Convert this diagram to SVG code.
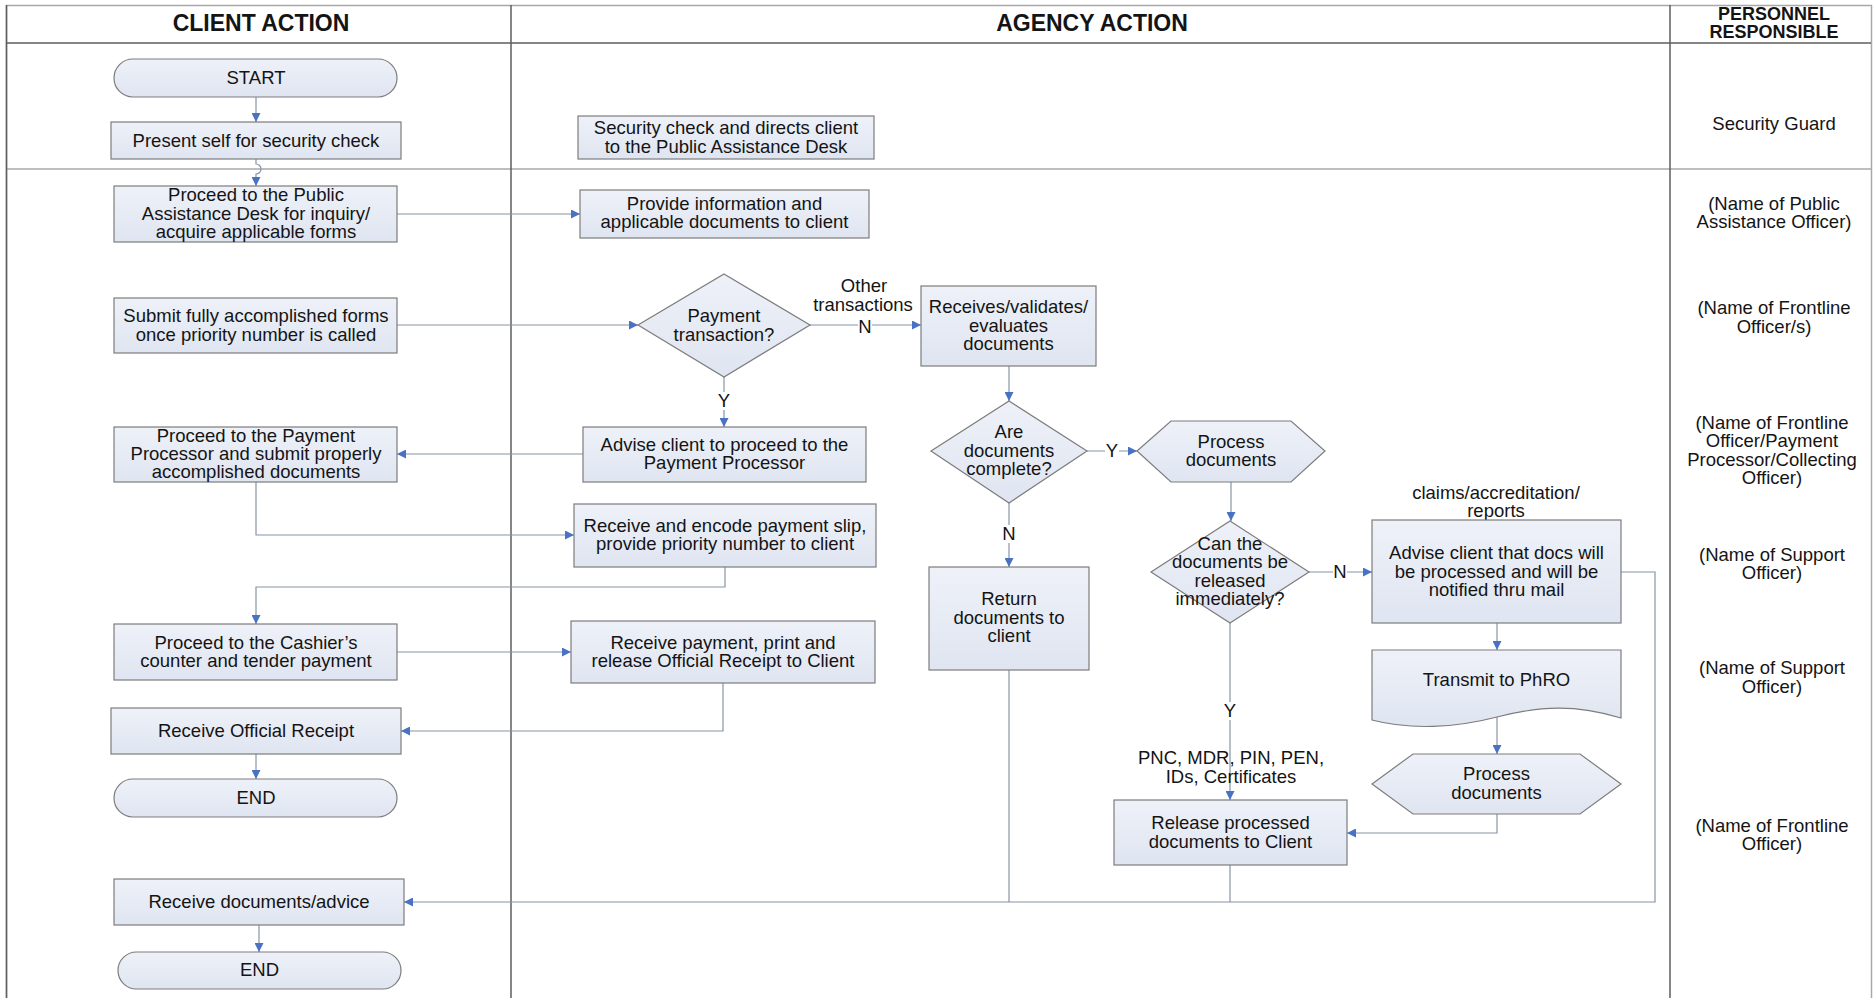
<svg xmlns="http://www.w3.org/2000/svg" width="1874" height="998" viewBox="0 0 1874 998">
<style>
text{font-family:"Liberation Sans",Arial,sans-serif;fill:#141414;text-anchor:middle}
.t{font-size:18.5px}
.h{font-size:23px;font-weight:bold}
.hs{font-size:18px;font-weight:bold}
.n{fill:url(#g);stroke:#7c7c7c;stroke-width:1.2}
.c{fill:none;stroke:#8794a8;stroke-width:1.2}
.fr{stroke:#5e5e5e;stroke-width:1.5;fill:none}
.fl{stroke:#a8a8a8;stroke-width:1.5;fill:none}
.lb{fill:#fff}
</style>
<defs>
<linearGradient id="g" x1="0" y1="0" x2="0" y2="1">
<stop offset="0" stop-color="#eef1f8"/>
<stop offset="1" stop-color="#dfe5f1"/>
</linearGradient>
<marker id="arr" viewBox="0 0 10 10" refX="10" refY="5" markerWidth="10" markerHeight="9" markerUnits="userSpaceOnUse" orient="auto">
<path d="M0,0 L10,5 L0,10 z" fill="#4a72c4"/>
</marker>
</defs>
<rect width="1874" height="998" fill="#fff"/>
<g id="frame">
<rect x="6.5" y="5.5" width="1865" height="1000" class="fl"/>
<line x1="6" y1="43" x2="1871" y2="43" class="fr"/>
<line x1="6" y1="169" x2="1871" y2="169" class="fl"/>
<line x1="511" y1="5" x2="511" y2="998" class="fr"/>
<line x1="1670" y1="5" x2="1670" y2="998" class="fr"/>
<line x1="6.5" y1="5" x2="6.5" y2="998" class="fr"/>
<text x="261" y="31" class="h">CLIENT ACTION</text>
<text x="1092" y="31" class="h">AGENCY ACTION</text>
<text x="1774" y="20" class="hs">PERSONNEL</text>
<text x="1774" y="38" class="hs">RESPONSIBLE</text>
</g>
<g id="personnel">
<text x="1774" y="130" class="t">Security Guard</text>
<text x="1774" y="210" class="t">(Name of Public</text>
<text x="1774" y="228" class="t">Assistance Officer)</text>
<text x="1774" y="314" class="t">(Name of Frontline</text>
<text x="1774" y="333" class="t">Officer/s)</text>
<text x="1772" y="429" class="t">(Name of Frontline</text>
<text x="1772" y="447" class="t">Officer/Payment</text>
<text x="1772" y="466" class="t">Processor/Collecting</text>
<text x="1772" y="484" class="t">Officer)</text>
<text x="1772" y="561" class="t">(Name of Support</text>
<text x="1772" y="579" class="t">Officer)</text>
<text x="1772" y="674" class="t">(Name of Support</text>
<text x="1772" y="693" class="t">Officer)</text>
<text x="1772" y="832" class="t">(Name of Frontline</text>
<text x="1772" y="850" class="t">Officer)</text>
</g>
<g id="connectors">
<path d="M256,97 V122" class="c" marker-end="url(#arr)"/>
<path d="M256,159 V164 A5,5 0 0 1 256,174 V186" class="c" marker-end="url(#arr)"/>
<path d="M397,214 H580" class="c" marker-end="url(#arr)"/>
<path d="M397,325 H638" class="c" marker-end="url(#arr)"/>
<path d="M809,325 H921" class="c" marker-end="url(#arr)"/>
<path d="M724,377 V427" class="c" marker-end="url(#arr)"/>
<path d="M583,454 H397" class="c" marker-end="url(#arr)"/>
<path d="M256,482 V535 H574" class="c" marker-end="url(#arr)"/>
<path d="M725,567 V587 H256 V624" class="c" marker-end="url(#arr)"/>
<path d="M397,652 H571" class="c" marker-end="url(#arr)"/>
<path d="M723,683 V731 H401" class="c" marker-end="url(#arr)"/>
<path d="M256,754 V779" class="c" marker-end="url(#arr)"/>
<path d="M1009,366 V401" class="c" marker-end="url(#arr)"/>
<path d="M1009,503 V567" class="c" marker-end="url(#arr)"/>
<path d="M1087,451 H1137" class="c" marker-end="url(#arr)"/>
<path d="M1231,482 V521" class="c" marker-end="url(#arr)"/>
<path d="M1309,572 H1372" class="c" marker-end="url(#arr)"/>
<path d="M1497,623 V650" class="c" marker-end="url(#arr)"/>
<path d="M1497,712 V754" class="c" marker-end="url(#arr)"/>
<path d="M1497,814 V833 H1347" class="c" marker-end="url(#arr)"/>
<path d="M1230,623 V800" class="c" marker-end="url(#arr)"/>
<path d="M1009,670 V902" class="c"/>
<path d="M1230,865 V902" class="c"/>
<path d="M1621,572 H1655 V902 H404" class="c" marker-end="url(#arr)"/>
<path d="M259,925 V952" class="c" marker-end="url(#arr)"/>
<rect x="717" y="392" width="14" height="18" class="lb"/>
<text x="724" y="407" class="t">Y</text>
<text x="864" y="292" class="t">Other</text>
<text x="863" y="311" class="t">transactions</text>
<rect x="858" y="319" width="14" height="16" class="lb"/>
<text x="865" y="333" class="t">N</text>
<rect x="1002" y="525" width="14" height="18" class="lb"/>
<text x="1009" y="540" class="t">N</text>
<rect x="1105" y="443" width="14" height="17" class="lb"/>
<text x="1112" y="457" class="t">Y</text>
<rect x="1333" y="564" width="14" height="17" class="lb"/>
<text x="1340" y="578" class="t">N</text>
<rect x="1223" y="702" width="14" height="18" class="lb"/>
<text x="1230" y="717" class="t">Y</text>
<text x="1496" y="499" class="t">claims/accreditation/</text>
<text x="1496" y="517" class="t">reports</text>
<text x="1231" y="764" class="t">PNC, MDR, PIN, PEN,</text>
<text x="1231" y="783" class="t">IDs, Certificates</text>
</g>
<g id="n-start"><rect x="114" y="59" width="283" height="38" rx="19" class="n"/><text x="256" y="84" class="t">START</text></g>
<g id="n-present"><rect x="111" y="122" width="290" height="37" class="n"/><text x="256" y="147" class="t">Present self for security check</text></g>
<g id="n-public"><rect x="114" y="186" width="283" height="56" class="n"/><text x="256" y="201" class="t">Proceed to the Public</text><text x="256" y="220" class="t">Assistance Desk for inquiry/</text><text x="256" y="238" class="t">acquire applicable forms</text></g>
<g id="n-submit"><rect x="114" y="298" width="283" height="55" class="n"/><text x="256" y="322" class="t">Submit fully accomplished forms</text><text x="256" y="341" class="t">once priority number is called</text></g>
<g id="n-payproc"><rect x="114" y="427" width="283" height="55" class="n"/><text x="256" y="442" class="t">Proceed to the Payment</text><text x="256" y="460" class="t">Processor and submit properly</text><text x="256" y="478" class="t">accomplished documents</text></g>
<g id="n-cashier"><rect x="114" y="624" width="283" height="56" class="n"/><text x="256" y="649" class="t">Proceed to the Cashier’s</text><text x="256" y="667" class="t">counter and tender payment</text></g>
<g id="n-receiveor"><rect x="111" y="708" width="290" height="46" class="n"/><text x="256" y="737" class="t">Receive Official Receipt</text></g>
<g id="n-end1"><rect x="114" y="779" width="283" height="38" rx="19" class="n"/><text x="256" y="804" class="t">END</text></g>
<g id="n-receivedocs"><rect x="114" y="879" width="290" height="46" class="n"/><text x="259" y="908" class="t">Receive documents/advice</text></g>
<g id="n-end2"><rect x="118" y="952" width="283" height="37" rx="18.5" class="n"/><text x="259.5" y="976" class="t">END</text></g>
<g id="n-seccheck"><rect x="578" y="116" width="296" height="43" class="n"/><text x="726" y="134" class="t">Security check and directs client</text><text x="726" y="153" class="t">to the Public Assistance Desk</text></g>
<g id="n-provide"><rect x="580" y="190" width="289" height="48" class="n"/><text x="724.5" y="210" class="t">Provide information and</text><text x="724.5" y="228" class="t">applicable documents to client</text></g>
<g id="n-paytx"><polygon points="724,274 810,325 724,377 638,325" class="n"/><text x="724" y="322" class="t">Payment</text><text x="724" y="341" class="t">transaction?</text></g>
<g id="n-receives"><rect x="921" y="286" width="175" height="80" class="n"/><text x="1008.5" y="313" class="t">Receives/validates/</text><text x="1008.5" y="332" class="t">evaluates</text><text x="1008.5" y="350" class="t">documents</text></g>
<g id="n-advise"><rect x="583" y="427" width="283" height="55" class="n"/><text x="724.5" y="451" class="t">Advise client to proceed to the</text><text x="724.5" y="469" class="t">Payment Processor</text></g>
<g id="n-encode"><rect x="574" y="504" width="302" height="63" class="n"/><text x="725" y="532" class="t">Receive and encode payment slip,</text><text x="725" y="550" class="t">provide priority number to client</text></g>
<g id="n-payment"><rect x="571" y="621" width="304" height="62" class="n"/><text x="723" y="649" class="t">Receive payment, print and</text><text x="723" y="667" class="t">release Official Receipt to Client</text></g>
<g id="n-complete"><polygon points="1009,401 1087,451 1009,503 931,451" class="n"/><text x="1009" y="438" class="t">Are</text><text x="1009" y="457" class="t">documents</text><text x="1009" y="475" class="t">complete?</text></g>
<g id="n-return"><rect x="929" y="567" width="160" height="103" class="n"/><text x="1009" y="605" class="t">Return</text><text x="1009" y="624" class="t">documents to</text><text x="1009" y="642" class="t">client</text></g>
<g id="n-process1"><polygon points="1137,451 1171,421 1291,421 1325,451 1291,482 1171,482" class="n"/><text x="1231" y="448" class="t">Process</text><text x="1231" y="466" class="t">documents</text></g>
<g id="n-canrelease"><polygon points="1230,521 1309,572 1230,623 1151,572" class="n"/><text x="1230" y="550" class="t">Can the</text><text x="1230" y="568" class="t">documents be</text><text x="1230" y="587" class="t">released</text><text x="1230" y="605" class="t">immediately?</text></g>
<g id="n-advisemail"><rect x="1372" y="520" width="249" height="103" class="n"/><text x="1496.5" y="559" class="t">Advise client that docs will</text><text x="1496.5" y="578" class="t">be processed and will be</text><text x="1496.5" y="596" class="t">notified thru mail</text></g>
<g id="n-transmit"><path d="M1372,650 H1621 V718 C1575,704 1540,706 1497,717 C1455,728 1410,730 1372,720 Z" class="n"/><text x="1496.5" y="686" class="t">Transmit to PhRO</text></g>
<g id="n-process2"><polygon points="1372,784 1413,754 1580,754 1621,784 1580,814 1413,814" class="n"/><text x="1496.5" y="780" class="t">Process</text><text x="1496.5" y="799" class="t">documents</text></g>
<g id="n-release"><rect x="1114" y="800" width="233" height="65" class="n"/><text x="1230.5" y="829" class="t">Release processed</text><text x="1230.5" y="848" class="t">documents to Client</text></g>
</svg>
